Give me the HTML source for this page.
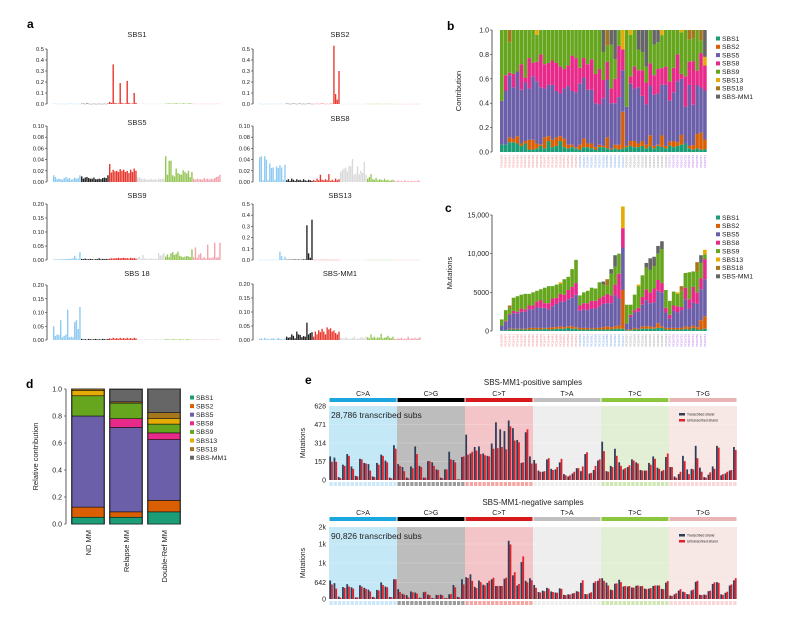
<!DOCTYPE html>
<html><head><meta charset="utf-8">
<style>
body{margin:0;background:#fff;}
svg{display:block;font-family:"Liberation Sans",Arial,sans-serif;}
</style></head>
<body>
<svg id="fig" width="808" height="617" viewBox="0 0 808 617" xmlns="http://www.w3.org/2000/svg"></svg>
<script>
// ---------- Panel a data (96-channel signatures) ----------
const sbs1 = [.003,.002,.002,.001,.002,.001,.001,.002,.001,.002,.003,.001,.001,.002,.002,.001,
 .002,.003,.001,.005,.002,.001,.001,.002,.001,.001,.002,.001,.001,.002,.001,.004,
 .02,.01,.36,.01,.005,.005,.19,.01,.004,.006,.21,.01,.003,.005,.10,.01,
 .003,.002,.001,.004,.002,.001,.002,.001,.002,.001,.003,.002,.001,.002,.001,.002,
 .004,.003,.006,.004,.003,.005,.008,.003,.004,.003,.006,.004,.003,.005,.007,.003,
 .002,.001,.002,.001,.002,.001,.003,.001,.001,.002,.001,.002,.001,.002,.003,.001];
const sbs2 = [.002,.001,.001,.002,.001,.002,.001,.001,.002,.001,.002,.001,.001,.002,.001,.002,
 .003,.002,.001,.002,.003,.002,.001,.002,.003,.001,.002,.001,.002,.003,.002,.001,
 .002,.001,.003,.001,.002,.004,.002,.001,.002,.001,.003,.002,.53,.09,.04,.30,
 .001,.001,.001,.002,.001,.001,.001,.001,.001,.002,.001,.001,.001,.001,.001,.001,
 .002,.001,.002,.001,.002,.001,.003,.001,.002,.001,.002,.001,.002,.001,.002,.001,
 .001,.001,.001,.002,.001,.001,.001,.001,.001,.001,.002,.001,.001,.001,.001,.002];
const sbs5 = [.012,.009,.005,.006,.005,.004,.007,.009,.006,.007,.004,.005,.008,.006,.007,.012,
 .010,.006,.008,.009,.007,.006,.006,.008,.005,.005,.006,.005,.007,.008,.007,.012,
 .032,.017,.022,.019,.020,.018,.023,.020,.022,.018,.020,.016,.022,.018,.024,.020,
 .008,.008,.006,.005,.006,.004,.004,.005,.005,.004,.005,.004,.006,.005,.006,.006,
 .046,.013,.038,.038,.012,.010,.024,.016,.014,.013,.021,.018,.015,.020,.009,.018,
 .006,.004,.006,.005,.005,.004,.007,.005,.006,.004,.006,.005,.007,.009,.010,.013];
const sbs8 = [.044,.046,.003,.046,.040,.003,.033,.025,.026,.004,.028,.025,.030,.026,.004,.031,
 .003,.005,.002,.006,.004,.002,.005,.003,.004,.002,.005,.003,.002,.004,.003,.002,
 .004,.002,.006,.003,.013,.004,.003,.005,.003,.014,.002,.004,.002,.006,.003,.005,
 .018,.022,.024,.026,.019,.029,.028,.041,.013,.015,.028,.014,.020,.016,.036,.013,
 .006,.009,.014,.005,.004,.007,.003,.005,.004,.003,.006,.003,.004,.002,.003,.004,
 .002,.001,.003,.001,.002,.001,.003,.001,.002,.001,.002,.001,.002,.001,.003,.001];
const sbs9 = [.002,.002,.002,.003,.002,.003,.003,.004,.003,.005,.004,.006,.015,.005,.003,.028,
 .004,.003,.005,.003,.003,.004,.003,.002,.003,.003,.006,.003,.004,.003,.004,.003,
 .005,.006,.005,.007,.006,.008,.006,.007,.008,.006,.007,.005,.008,.006,.007,.005,
 .008,.012,.004,.018,.005,.004,.004,.006,.005,.004,.004,.005,.024,.015,.018,.025,
 .012,.020,.010,.024,.028,.018,.022,.030,.015,.012,.010,.012,.014,.013,.010,.038,
 .010,.045,.008,.020,.024,.006,.010,.005,.055,.008,.006,.010,.062,.008,.010,.062];
const sbs13 = [.002,.001,.001,.002,.001,.002,.001,.001,.002,.001,.002,.001,.075,.035,.005,.030,
 .003,.003,.004,.003,.004,.005,.003,.004,.003,.004,.006,.005,.31,.06,.02,.36,
 .002,.001,.002,.001,.002,.001,.002,.001,.002,.001,.002,.001,.002,.001,.002,.001,
 .001,.001,.001,.001,.001,.001,.001,.001,.001,.001,.001,.001,.001,.001,.001,.001,
 .002,.001,.002,.001,.002,.001,.002,.001,.002,.001,.002,.001,.002,.001,.002,.001,
 .001,.001,.001,.001,.001,.001,.001,.001,.001,.001,.001,.001,.001,.001,.001,.001];
const sbs18 = [.05,.015,.02,.018,.072,.01,.015,.02,.11,.01,.012,.01,.065,.072,.04,.12,
 .004,.002,.003,.002,.004,.003,.002,.003,.004,.002,.003,.002,.004,.003,.002,.004,
 .006,.004,.008,.005,.007,.004,.008,.005,.007,.004,.008,.005,.007,.004,.008,.006,
 .002,.001,.002,.001,.002,.003,.002,.001,.002,.001,.002,.003,.001,.002,.001,.002,
 .003,.002,.002,.001,.003,.002,.002,.001,.003,.002,.002,.001,.003,.002,.002,.001,
 .001,.001,.002,.001,.001,.001,.002,.001,.001,.001,.002,.001,.001,.001,.002,.001];
const sbsmm1 = [.004,.006,.002,.008,.003,.004,.002,.005,.006,.003,.002,.008,.004,.003,.002,.006,
 .012,.008,.01,.02,.015,.006,.03,.02,.018,.01,.014,.012,.062,.02,.025,.028,
 .012,.03,.02,.035,.028,.04,.03,.02,.045,.038,.042,.03,.034,.025,.02,.03,
 .008,.006,.005,.01,.006,.004,.005,.006,.012,.004,.006,.005,.01,.008,.006,.012,
 .01,.006,.02,.008,.012,.006,.01,.008,.022,.006,.008,.01,.015,.008,.006,.012,
 .004,.003,.006,.004,.008,.003,.005,.004,.012,.004,.006,.005,.008,.004,.006,.01];

// ---------- Panel b data (relative contributions per sample) ----------
const bS1 = [.06,.06,.08,.08,.07,.05,.07,.02,.02,.03,.05,.03,.09,.04,.05,.09,.04,.03,.04,.03, .02,.04,.04,.03,.02,.04,.04,.03,.02,.03,.02,.03, .04,.05,.04,.04,.05,.03,.04,.03,.05,.04,.03, .05,.04,.05,.06,.07,.03,.02,.03,.02,.03];
const bS2 = [0,0,.04,.03,.06,.02,.02,.08,.08,.04,.01,.09,.04,.06,.07,.04,.07,.03,.02,.01, .04,.07,.03,.04,.02,.02,.01,.09,.01,.03,.04,.30, .01,.04,.05,.03,.04,.03,.08,.02,.01,.09,.02, .03,.05,.03,.08,0,.02,.04,.12,.15,.10];
const bS5 = [.36,.44,.51,.42,.53,.44,.48,.42,.52,.51,.47,.40,.42,.45,.38,.35,.41,.48,.44,.45, .50,.50,.44,.44,.36,.33,.39,.47,.37,.34,.39,.34, .32,.47,.43,.46,.37,.33,.36,.42,.42,.40,.50, .32,.40,.50,.46,.30,.50,.35,.41,.39,.51];
const bS8 = [0,.13,.02,.11,0,.21,.04,.25,.11,.16,.27,.20,.18,.20,.23,.22,.16,.17,.29,.28, .13,.16,.21,.25,.24,.29,.15,.15,.12,.20,.42,.17, 0,.06,.18,.14,.21,.18,.16,.16,.20,.13,.15, .15,.20,.22,.04,.25,.19,.38,.12,.30,.26];
const bS9 = [.58,.37,.25,.36,.34,.28,.39,.23,.27,.22,.20,.28,.27,.25,.27,.30,.32,.29,.21,.23, .31,.23,.28,.24,.36,.32,.23,.13,.36,.16,.13,0, .63,.34,.30,.17,.15,.13,.24,.25,.22,.26,.30, .40,.31,.20,.34,.38,.18,.20,.34,.11,0];
const bS13 = [0,0,0,0,0,0,0,0,0,.04,0,0,0,0,0,0,0,0,0,0, 0,0,0,0,0,0,0,0,0,0,0,.16, 0,.04,0,0,0,0,0,0,0,.04,0, 0,0,0,.02,0,0,0,0,0,.09];
const bS18 = [0,0,.10,0,0,0,0,0,0,0,0,0,0,0,0,0,0,0,0,0, 0,0,0,0,0,0,0,.13,0,0,0,0, 0,0,0,0,0,0,0,0,0,0,0, 0,0,0,0,0,.08,.07,0,.09,0];
const bMM1 = [0,0,0,0,0,0,0,0,0,0,0,0,0,0,0,0,0,0,0,0, 0,0,0,0,0,0,.18,0,.12,.24,0,0, 0,0,0,.16,.18,.3,0,.12,.10,0,0, 0,0,0,0,0,0,0,0,0,.28];
const bGroups = [20,12,11,10];

// ---------- Panel c data (mutation counts, hundreds) ----------
const cS1 = [1,1,2,2,2,2,2,2,2,2,2,3,2,2,3,3,3,4,3,3, 2,2,2,2,2,2,2,2,2,3,3,3, 1,1,2,2,3,3,3,3,4,4,2, 2,2,2,2,3,2,4,2,2,3];
const cS2 = [0,0,1,1,1,1,1,2,2,2,2,1,2,3,2,3,2,2,3,2, 2,2,2,1,2,2,3,4,3,3,4,50, 1,1,2,1,3,3,3,2,6,2,2, 2,2,2,2,3,3,3,3,12,16];
const cS5 = [6,11,18,20,20,22,22,24,24,27,26,26,24,27,30,32,33,35,37,42, 22,24,23,26,25,28,30,30,31,40,35,55, 8,16,20,22,28,34,30,32,42,44,20, 12,22,20,23,35,24,30,30,40,48];
const cS8 = [0,1,1,3,2,4,3,5,5,7,10,6,8,10,8,10,9,12,14,15, 7,8,9,10,10,10,10,12,10,14,32,25, 0,3,3,5,10,14,14,18,14,12,6, 5,7,8,4,15,12,20,15,14,26];
const cS9 = [8,14,8,17,20,18,20,15,17,14,14,20,22,16,17,13,20,17,23,30, 13,14,16,17,16,21,15,11,28,23,26,0, 24,13,20,28,28,28,29,29,34,44,23, 18,18,16,21,19,35,20,27,20,6];
const cS13 = [0,0,0,0,0,0,0,0,0,0,0,0,0,0,0,2,0,0,0,0, 0,0,0,0,0,0,0,0,0,0,0,28, 0,0,0,2,0,0,0,0,0,0,0, 0,0,2,0,0,0,0,0,0,6];
const cS18 = [0,0,3,0,0,0,0,0,0,0,0,0,0,0,0,0,0,0,0,0, 0,0,0,0,0,0,0,8,0,0,0,0, 0,0,0,0,0,0,0,0,0,0,0, 0,0,0,6,0,0,0,12,0,0];
const cMM1 = [0,0,0,0,0,0,0,0,0,0,0,0,0,0,0,0,0,0,0,0, 0,0,0,0,0,0,4,0,6,15,0,0, 0,0,0,0,0,6,15,12,10,10,0, 0,0,0,0,0,0,0,0,10,0];
const cTicks = [0,50,100,150];
const cTickLabels = ['0','5000','10,000','15,000'];

// ---------- Panel d data ----------
const dCats = ['ND MM','Relapse MM','Double-Ref MM'];
const dS1 = [.05,.05,.09];
const dS2 = [.075,.04,.085];
const dS5 = [.675,.625,.45];
const dS8 = [0,.065,.05];
const dS9 = [.15,.115,.065];
const dS13 = [.04,0,.04];
const dS18 = [.01,.01,.045];
const dMM1 = [0,.09,.175];

// ---------- Panel e data ----------
const posTr = [200,190,25,130,220,115,35,180,145,135,30,145,215,165,20,295, 135,110,20,115,285,120,20,160,150,90,20,90,240,170,5,195,
 385,225,280,285,225,205,310,490,430,415,505,440,340,145,405,200, 170,80,70,175,95,90,150,50,30,55,100,75,220,55,85,165,
 325,75,120,265,150,90,110,175,150,85,80,145,200,105,75,195, 110,30,50,205,90,95,290,105,25,45,115,290,40,55,80,280];
const posUn = [155,155,15,120,205,95,30,175,140,80,25,130,205,150,15,265, 120,75,15,100,220,110,20,160,120,85,15,90,175,150,5,200,
 215,240,250,220,210,200,265,270,280,260,455,335,320,150,430,140, 140,70,75,185,85,110,180,40,40,70,100,115,235,60,120,175,
 245,70,110,205,120,100,125,165,140,80,80,130,180,95,85,225, 110,20,70,160,50,90,185,70,20,65,95,275,50,70,85,255];
const negTr = [710,610,90,460,570,450,60,530,430,360,80,350,640,480,80,760, 380,200,150,290,250,50,260,170,40,160,170,30,180,540,80,760,
 840,950,470,710,550,620,760,500,500,780,2240,910,520,1420,700,800, 540,270,320,430,290,250,410,160,180,210,300,620,190,220,620,700,
 800,630,360,590,740,480,480,440,510,490,400,400,500,520,390,630, 130,180,320,280,190,330,660,160,170,300,580,650,180,240,520,720];
const negUn = [560,400,50,430,480,400,60,480,390,290,60,330,540,450,70,760, 270,170,60,260,210,40,280,150,20,150,140,40,190,450,60,560,
 810,700,420,650,520,700,820,500,500,820,2100,1030,580,1640,640,720, 430,250,300,400,270,240,390,150,170,230,280,720,180,260,680,790,
 700,520,340,600,650,500,500,440,520,500,380,420,520,520,380,690, 120,220,380,260,180,360,700,150,160,320,640,620,160,280,560,800];
const mutTypes = ['C>A','C>G','C>T','T>A','T>C','T>G'];
const posTicks = [0,157,314,471,628];
const posTickLabels = ['0','157','314','471','628'];
const negTicks = [0,642,1385,2115,2770];
const negTickLabels = ['0','642','1k','1k','2k'];

// ---------- helpers ----------
const svg = document.getElementById('fig');
const NS = 'http://www.w3.org/2000/svg';
function mk(tag, attrs, parent){
  const e = document.createElementNS(NS, tag);
  for (const k in attrs) e.setAttribute(k, attrs[k]);
  (parent||svg).appendChild(e);
  return e;
}
function txt(s, x, y, size, opts, parent){
  const e = mk('text', Object.assign({x:x, y:y, 'font-size':size, fill:'#222'}, opts||{}), parent);
  e.textContent = s;
  return e;
}
const sigCols = {s1:'#1b9e77', s2:'#d95f02', s5:'#6a5fa8', s8:'#e7298a', s9:'#66a61e', s13:'#e6ab02', s18:'#a6761d', mm1:'#666666'};
const sigNames = ['SBS1','SBS2','SBS5','SBS8','SBS9','SBS13','SBS18','SBS-MM1'];
const sigColList = [sigCols.s1,sigCols.s2,sigCols.s5,sigCols.s8,sigCols.s9,sigCols.s13,sigCols.s18,sigCols.mm1];
const chanCols = ['#8ecaf2','#222222','#e8372e','#d9d9d9','#94c655','#f5a3ad'];

// Panel labels
[['a',27,28],['b',447,30],['c',445,212],['d',26,388],['e',305,384]].forEach(p=>{
  const t = txt(p[0], p[1], p[2], 12, {'font-weight':'bold', fill:'#000'});
  
  
});

// ---------- Panel a ----------
function drawSig(name, vals, x0, x1, yTop, yBot, max, ticks, dec, titleY){
  const g = mk('g', {});
  
  
  const y = v => yBot - v/max*(yBot-yTop);
  const w = (x1-x0)/96;
  vals.forEach((v,i)=>{
    const r = mk('rect', {x:x0+i*w, y:y(v), width:w*0.8, height:Math.max(0.3,yBot-y(v)), fill:chanCols[Math.floor(i/16)]}, g);
    
    
  });
  const ax = x0-6;
  mk('line', {x1:ax, y1:yTop, x2:ax, y2:yBot, stroke:'#333', 'stroke-width':0.8}, g);
  ticks.forEach(t=>{
    mk('line', {x1:ax-2, y1:y(t), x2:ax, y2:y(t), stroke:'#333', 'stroke-width':0.6}, g);
    txt(t.toFixed(dec), ax-3, y(t)+2, 5.8, {'text-anchor':'end'}, g);
  });
  txt(name, (x0+x1)/2, titleY, 7.5, {'text-anchor':'middle'}, g);
}
const t5 = [0,.1,.2,.3,.4,.5], t10=[0,.02,.04,.06,.08,.1], t20=[0,.05,.1,.15,.2];
drawSig('SBS1', sbs1, 53, 221, 49, 104, .5, t5, 1, 37);
drawSig('SBS2', sbs2, 259, 421, 49, 104, .5, t5, 1, 37);
drawSig('SBS5', sbs5, 53, 221, 126, 182, .1, t10, 2, 125);
drawSig('SBS8', sbs8, 259, 421, 126, 182, .1, t10, 2, 121);
drawSig('SBS9', sbs9, 53, 221, 204, 260, .2, t20, 2, 198);
drawSig('SBS13', sbs13, 259, 421, 204, 260, .5, t5, 1, 198);
drawSig('SBS 18', sbs18, 53, 221, 285, 340, .2, t20, 2, 276);
drawSig('SBS-MM1', sbsmm1, 259, 421, 284, 340, .2, t20, 2, 276);

// ---------- legend helper ----------
function legend(x, y, step, name){
  const g = mk('g', {});
  
  
  sigNames.forEach((n,i)=>{
    mk('rect', {x:x, y:y+i*step-3.5, width:4, height:4, fill:sigColList[i]}, g);
    txt(n, x+6, y+i*step+0.8, 6.8, {}, g);
  });
}

// ---------- Panel b ----------
(function(){
  const x0=500, x1=707, yTop=30, yBot=152;
  const n = bS1.length, w=(x1-x0)/n;
  const y = v => yBot - v*(yBot-yTop);
  const g = mk('g', {});
  
  
  const series = [bS1,bS2,bS5,bS8,bS9,bS13,bS18,bMM1];
  const grpCols = ['#f07f7f','#6f9fe6','#999999','#b46ff0'];
  let gi=0, gc=0;
  for (let i=0;i<n;i++){
    let tot=0; series.forEach(s=>tot+=s[i]);
    let acc=0;
    series.forEach((s,k)=>{
      const v=s[i]/tot;
      if(v<=0) return;
      const r=mk('rect',{x:x0+i*w, y:y(acc+v), width:w-0.3, height:y(acc)-y(acc+v), fill:sigColList[k]}, g);
      
      
      acc+=v;
    });
    const lt = txt('PD'+(26400+i*7), 0, 0, 3, {fill:grpCols[gi], 'text-anchor':'end', transform:`translate(${x0+i*w+w*0.7},155) rotate(-90)`}, g);
    gc++; if(gc>=bGroups[gi]){gi++;gc=0;}
  }
  mk('line',{x1:x0-8,y1:yTop,x2:x0-8,y2:yBot,stroke:'#333','stroke-width':0.8},g);
  [0,.2,.4,.6,.8,1].forEach(t=>{
    mk('line',{x1:x0-10,y1:y(t),x2:x0-8,y2:y(t),stroke:'#333','stroke-width':0.6},g);
    txt(t.toFixed(1), x0-11, y(t)+2.5, 7, {'text-anchor':'end'}, g);
  });
  txt('Contribution',0,0,7.5,{'text-anchor':'middle',transform:`translate(461,${(yTop+yBot)/2}) rotate(-90)`},g);
  legend(716, 40, 8.3, 'panel-b-legend');
})();

// ---------- Panel c ----------
(function(){
  const x0=500, x1=707, yTop=215, yBot=331, max=150;
  const n=cS1.length, w=(x1-x0)/n;
  const y = v => yBot - v/max*(yBot-yTop);
  const g = mk('g', {});
  
  
  const series=[cS1,cS2,cS5,cS8,cS9,cS13,cS18,cMM1];
  const grpCols = ['#f07f7f','#6f9fe6','#999999','#b46ff0'];
  let gi=0, gc=0;
  for(let i=0;i<n;i++){
    let acc=0;
    series.forEach((s,k)=>{
      const v=s[i]; if(v<=0) return;
      const r=mk('rect',{x:x0+i*w,y:y(acc+v),width:w-0.3,height:y(acc)-y(acc+v),fill:sigColList[k]},g);
      
      
      acc+=v;
    });
    txt('PD'+(26400+i*7), 0, 0, 3, {fill:grpCols[gi], 'text-anchor':'end', transform:`translate(${x0+i*w+w*0.7},334) rotate(-90)`}, g);
    gc++; if(gc>=bGroups[gi]){gi++;gc=0;}
  }
  mk('line',{x1:x0-8,y1:yTop,x2:x0-8,y2:yBot,stroke:'#333','stroke-width':0.8},g);
  cTicks.forEach((t,i)=>{
    mk('line',{x1:x0-10,y1:y(t),x2:x0-8,y2:y(t),stroke:'#333','stroke-width':0.6},g);
    txt(cTickLabels[i], x0-11, y(t)+2.5, 7, {'text-anchor':'end'}, g);
  });
  txt('Mutations',0,0,7.5,{'text-anchor':'middle',transform:`translate(452,${(yTop+yBot)/2}) rotate(-90)`},g);
  legend(716, 219, 8.4, 'panel-c-legend');
})();

// ---------- Panel d ----------
(function(){
  const yTop=389, yBot=524;
  const xs=[72,110,148], bw=32;
  const y = v => yBot - v*(yBot-yTop);
  const g = mk('g', {});
  
  
  const series=[dS1,dS2,dS5,dS8,dS9,dS13,dS18,dMM1];
  dCats.forEach((c,i)=>{
    mk('rect',{x:xs[i]-1,y:yTop-0.5,width:bw+2,height:yBot-yTop+1,fill:'#555'},g);
    let acc=0;
    series.forEach((s,k)=>{
      const v=s[i]; if(v<=0) return;
      const r=mk('rect',{x:xs[i],y:y(acc+v),width:bw,height:y(acc)-y(acc+v),fill:sigColList[k],stroke:'#111','stroke-width':0.6},g);
      
      
      acc+=v;
    });
    txt(c,0,0,7.5,{'text-anchor':'end',transform:`translate(${xs[i]+bw/2+3},530) rotate(-90)`},g);
  });
  mk('line',{x1:66,y1:yTop,x2:66,y2:yBot,stroke:'#333','stroke-width':0.8},g);
  [0,.2,.4,.6,.8,1].forEach(t=>{
    mk('line',{x1:64,y1:y(t),x2:66,y2:y(t),stroke:'#333','stroke-width':0.6},g);
    txt(t.toFixed(1),62,y(t)+2.5,7,{'text-anchor':'end'},g);
  });
  txt('Relative contribution',0,0,7.5,{'text-anchor':'middle',transform:`translate(38,${(yTop+yBot)/2}) rotate(-90)`},g);
  legend(190, 399, 8.6, 'panel-d-legend');
})();

// ---------- Panel e ----------
function strandChart(name, title, titleY, catY, yTop, yBot, tr, un, max, ticks, tickLabels, subsText){
  const x0=329, x1=737;
  const g = mk('g', {});
  
  
  const y = v => yBot - v/max*(yBot-yTop);
  const seg=(x1-x0)/6;
  const bg=['#c5e8f7','#bdbdbd','#f4c5c8','#eeeeee','#e2efd4','#f7e7e5'];
  const top=['#1ba6e0','#000000','#d7191c','#c0c0c0','#8cc63f','#e8b4b4'];
  txt(title,(x0+x1)/2,titleY,8,{'text-anchor':'middle'},g);
  mutTypes.forEach((m,i)=>{
    mk('rect',{x:x0+i*seg,y:yTop,width:seg,height:yBot-yTop,fill:bg[i]},g);
    mk('rect',{x:x0+i*seg+0.5,y:catY+2,width:seg-1,height:4,fill:top[i]},g);
    txt(m,x0+i*seg+seg/2,catY,7,{'text-anchor':'middle'},g);
  });
  ticks.forEach((t,i)=>{
    mk('line',{x1:x0,y1:y(t),x2:x1,y2:y(t),stroke:'#ffffff','stroke-opacity':0.35,'stroke-width':0.5},g);
    txt(tickLabels[i],x0-3,y(t)+2.5,7,{'text-anchor':'end'},g);
  });
  const w=(x1-x0)/96;
  tr.forEach((v,i)=>{
    const r1=mk('rect',{x:x0+i*w+0.3,y:y(v),width:w*0.42,height:yBot-y(v),fill:'#2d3e57'},g);
    
    
    const u=un[i];
    const r2=mk('rect',{x:x0+i*w+0.3+w*0.42,y:y(u),width:w*0.42,height:yBot-y(u),fill:'#e3202b'},g);
    
    
  });
  // tiny channel labels row
  for(let i=0;i<96;i++){
    mk('rect',{x:x0+i*w+0.5,y:yBot+2,width:w-1,height:4,fill:chanCols[Math.floor(i/16)],opacity:0.45},g);
  }
  txt(subsText,x0+2,yTop+12,8.5,{},g);
  mk('rect',{x:679,y:yTop+7,width:6,height:2.5,fill:'#2d3e57'},g);
  mk('rect',{x:679,y:yTop+13,width:6,height:2.5,fill:'#e3202b'},g);
  txt('Transcribed strand',687,yTop+9.5,3.3,{},g);
  txt('Untranscribed strand',687,yTop+15.5,3.3,{},g);
  txt('Mutations',0,0,7,{'text-anchor':'middle',transform:`translate(305,${(yTop+yBot)/2}) rotate(-90)`},g);
}
strandChart('panel-e-positive','SBS-MM1-positive samples',385,396,406,480,posTr,posUn,628,posTicks,posTickLabels,'28,786 transcribed subs');
strandChart('panel-e-negative','SBS-MM1-negative samples',505,515,527,599,negTr,negUn,2770,negTicks,negTickLabels,'90,826 transcribed subs');
</script>
</body></html>
